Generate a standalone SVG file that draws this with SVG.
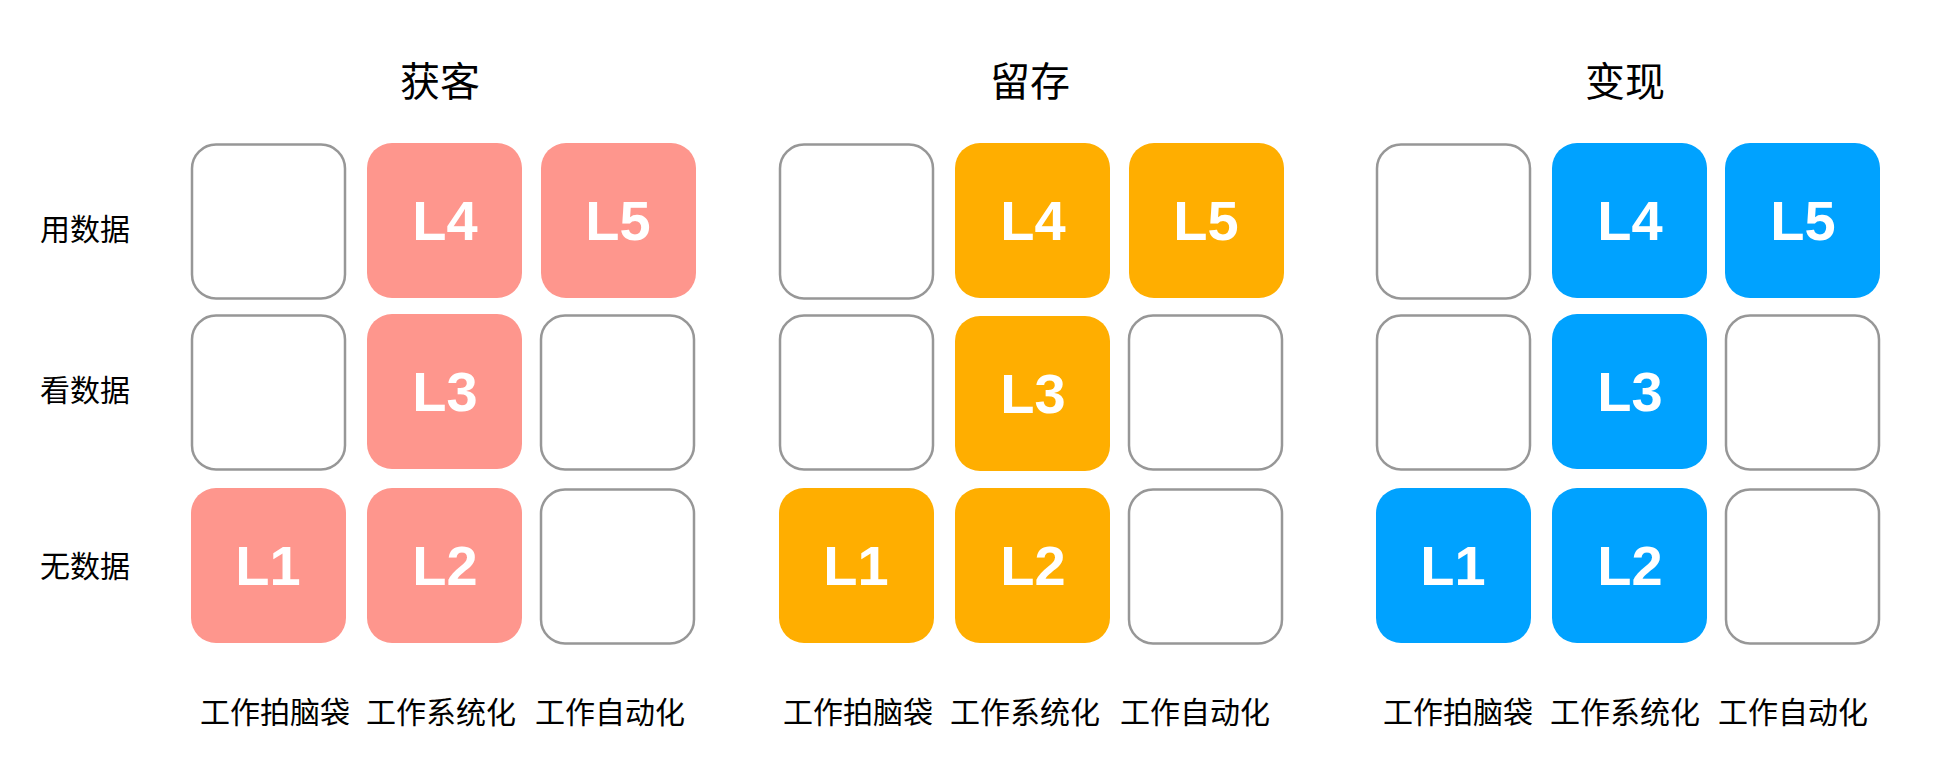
<svg xmlns="http://www.w3.org/2000/svg" width="1934" height="776" viewBox="0 0 1934 776">
<style>
.bg{fill:#ffffff}
.empty{fill:#ffffff;stroke:#979797;stroke-width:2.5}
.red{fill:#FE968D}
.org{fill:#FFAE00}
.blu{fill:#00A2FF}
.lv{font-family:"Liberation Sans",Arial,sans-serif;font-weight:bold;font-size:56px;fill:#ffffff;text-anchor:middle}
.title{font-family:"Noto Sans CJK SC","Noto Sans",sans-serif;font-size:40px;fill:#000;text-anchor:middle}
.lab{font-family:"Noto Sans CJK SC","Noto Sans",sans-serif;font-size:30px;fill:#000}
</style>
<rect class="bg" x="0" y="0" width="1934" height="776"/>
<g id="titles">
<text class="title" x="440" y="96">获客</text>
<text class="title" x="1030" y="96">留存</text>
<text class="title" x="1625" y="96">变现</text>
</g>
<g id="row-labels">
<text class="lab" x="40" y="240">用数据</text>
<text class="lab" x="40" y="401">看数据</text>
<text class="lab" x="40" y="577">无数据</text>
</g>
<g id="group-huoke">
<g id="hk-r1c1"><rect class="empty" x="192" y="144.5" width="153" height="154" rx="24"/></g>
<g id="hk-r1c2"><rect class="red" x="367" y="143" width="155" height="155" rx="25"/><text class="lv" x="445" y="240">L4</text></g>
<g id="hk-r1c3"><rect class="red" x="541" y="143" width="155" height="155" rx="25"/><text class="lv" x="618" y="240">L5</text></g>
<g id="hk-r2c1"><rect class="empty" x="192" y="315.5" width="153" height="154" rx="24"/></g>
<g id="hk-r2c2"><rect class="red" x="367" y="314" width="155" height="155" rx="25"/><text class="lv" x="445" y="411">L3</text></g>
<g id="hk-r2c3"><rect class="empty" x="541" y="315.5" width="153" height="154" rx="24"/></g>
<g id="hk-r3c1"><rect class="red" x="191" y="488" width="155" height="155" rx="25"/><text class="lv" x="268" y="585">L1</text></g>
<g id="hk-r3c2"><rect class="red" x="367" y="488" width="155" height="155" rx="25"/><text class="lv" x="445" y="585">L2</text></g>
<g id="hk-r3c3"><rect class="empty" x="541" y="489.5" width="153" height="154" rx="24"/></g>
</g>
<g id="group-liucun">
<g id="lc-r1c1"><rect class="empty" x="780" y="144.5" width="153" height="154" rx="24"/></g>
<g id="lc-r1c2"><rect class="org" x="955" y="143" width="155" height="155" rx="25"/><text class="lv" x="1033" y="240">L4</text></g>
<g id="lc-r1c3"><rect class="org" x="1129" y="143" width="155" height="155" rx="25"/><text class="lv" x="1206" y="240">L5</text></g>
<g id="lc-r2c1"><rect class="empty" x="780" y="315.5" width="153" height="154" rx="24"/></g>
<g id="lc-r2c2"><rect class="org" x="955" y="316" width="155" height="155" rx="25"/><text class="lv" x="1033" y="413">L3</text></g>
<g id="lc-r2c3"><rect class="empty" x="1129" y="315.5" width="153" height="154" rx="24"/></g>
<g id="lc-r3c1"><rect class="org" x="779" y="488" width="155" height="155" rx="25"/><text class="lv" x="856" y="585">L1</text></g>
<g id="lc-r3c2"><rect class="org" x="955" y="488" width="155" height="155" rx="25"/><text class="lv" x="1033" y="585">L2</text></g>
<g id="lc-r3c3"><rect class="empty" x="1129" y="489.5" width="153" height="154" rx="24"/></g>
</g>
<g id="group-bianxian">
<g id="bx-r1c1"><rect class="empty" x="1377" y="144.5" width="153" height="154" rx="24"/></g>
<g id="bx-r1c2"><rect class="blu" x="1552" y="143" width="155" height="155" rx="25"/><text class="lv" x="1630" y="240">L4</text></g>
<g id="bx-r1c3"><rect class="blu" x="1725" y="143" width="155" height="155" rx="25"/><text class="lv" x="1803" y="240">L5</text></g>
<g id="bx-r2c1"><rect class="empty" x="1377" y="315.5" width="153" height="154" rx="24"/></g>
<g id="bx-r2c2"><rect class="blu" x="1552" y="314" width="155" height="155" rx="25"/><text class="lv" x="1630" y="411">L3</text></g>
<g id="bx-r2c3"><rect class="empty" x="1726" y="315.5" width="153" height="154" rx="24"/></g>
<g id="bx-r3c1"><rect class="blu" x="1376" y="488" width="155" height="155" rx="25"/><text class="lv" x="1453" y="585">L1</text></g>
<g id="bx-r3c2"><rect class="blu" x="1552" y="488" width="155" height="155" rx="25"/><text class="lv" x="1630" y="585">L2</text></g>
<g id="bx-r3c3"><rect class="empty" x="1726" y="489.5" width="153" height="154" rx="24"/></g>
</g>
<g id="col-labels">
<text class="lab" x="200" y="723">工作拍脑袋</text>
<text class="lab" x="366" y="723">工作系统化</text>
<text class="lab" x="535" y="723">工作自动化</text>
<text class="lab" x="783" y="723">工作拍脑袋</text>
<text class="lab" x="950" y="723">工作系统化</text>
<text class="lab" x="1120" y="723">工作自动化</text>
<text class="lab" x="1383" y="723">工作拍脑袋</text>
<text class="lab" x="1550" y="723">工作系统化</text>
<text class="lab" x="1718" y="723">工作自动化</text>
</g>
<g id="connectors"></g>
</svg>
